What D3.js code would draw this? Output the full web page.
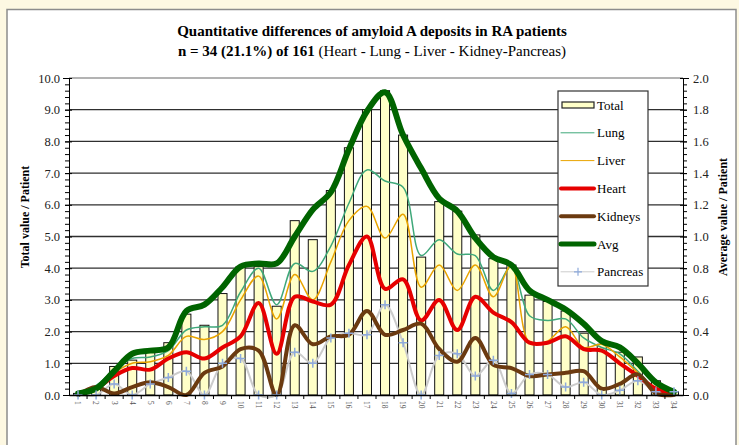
<!DOCTYPE html>
<html>
<head>
<meta charset="utf-8">
<script src="https://cdn.jsdelivr.net/npm/d3@7"></script>
<style>
  body { margin: 0; background: #fdf8e2; }
  svg { display: block; font-family: "Liberation Serif", "Times New Roman", serif; }
</style>
</head>
<body>
<div id="chart"></div>
<script>
// categories (patients 1..34)
var patients = d3.range(1, 35).map(String);

// left axis: total value / patient
var total = [0.05, 0.2, 0.9, 1.1, 1.35, 1.65, 2.55, 2.2, 3.2, 4.05, 4.05, 2.8, 5.5, 4.9, 6.45, 7.8, 9.0, 9.6, 8.2, 4.35,
             6.1, 5.8, 5.05, 4.3, 4.1, 3.15, 2.95, 2.65, 1.95, 1.6, 1.35, 1.2, 0.45, 0.1];

// right axis: average value / patient
var lung = [0.01, 0.06, 0.16, 0.23, 0.24, 0.28, 0.41, 0.43, 0.44, 0.65, 0.80, 0.57, 0.83, 0.78, 0.94, 1.21, 1.42, 1.35, 1.31, 0.88,
            0.98, 0.89, 0.88, 0.66, 0.81, 0.50, 0.47, 0.48, 0.36, 0.30, 0.26, 0.15, 0.04, 0.01];
var liver = [0.01, 0.05, 0.14, 0.20, 0.21, 0.25, 0.37, 0.35, 0.40, 0.60, 0.75, 0.48, 0.76, 0.60, 0.84, 1.10, 1.19, 0.99, 1.14, 0.68,
             0.82, 0.66, 0.82, 0.62, 0.82, 0.33, 0.34, 0.43, 0.30, 0.32, 0.24, 0.14, 0.04, 0.01];
var heart = [0.01, 0.04, 0.12, 0.17, 0.16, 0.23, 0.27, 0.23, 0.30, 0.37, 0.58, 0.26, 0.62, 0.59, 0.57, 0.82, 1.00, 0.67, 0.73, 0.47,
             0.60, 0.41, 0.62, 0.52, 0.46, 0.33, 0.33, 0.37, 0.29, 0.28, 0.20, 0.12, 0.04, 0.01];
var kidneys = [0, 0.05, 0.01, 0.05, 0.08, 0.05, 0, 0.14, 0.18, 0.29, 0.28, 0, 0.44, 0.32, 0.37, 0.38, 0.53, 0.38, 0.41, 0.45,
               0.29, 0.21, 0.36, 0.19, 0.17, 0.12, 0.13, 0.14, 0.15, 0.04, 0.07, 0.13, 0.01, 0];
var avg = [0.01, 0.04, 0.15, 0.26, 0.28, 0.30, 0.53, 0.57, 0.68, 0.81, 0.83, 0.83, 1.00, 1.17, 1.28, 1.55, 1.79, 1.91, 1.64, 1.43,
           1.24, 1.16, 0.99, 0.87, 0.82, 0.66, 0.60, 0.54, 0.45, 0.34, 0.30, 0.20, 0.08, 0.02];
var pancreas = [0, 0, 0.07, 0, 0.07, 0.11, 0.15, 0, 0.20, 0.23, 0, 0, 0.27, 0.20, 0.36, 0.39, 0.38, 0.57, 0.33, 0,
                0.25, 0.26, 0.12, 0.22, 0.01, 0.13, 0.13, 0.05, 0.08, 0, 0.03, 0.09, 0.02, 0.02];

var leftTicks = d3.range(0, 10.01, 1);
var rightTicks = d3.range(0, 2.001, 0.2);

var W = 739, H = 445;
var margin = {top: 78, right: 56, bottom: 50, left: 69},
    width = W - margin.left - margin.right,
    height = H - margin.top - margin.bottom;

var root = d3.select("#chart").append("svg")
    .attr("width", W)
    .attr("height", H);

// white panel with grey border
root.append("rect")
    .attr("x", 7).attr("y", 9.5)
    .attr("width", 729).attr("height", 450)
    .attr("fill", "#ffffff")
    .attr("stroke", "#8c8c8c")
    .attr("stroke-width", 1.5);

// title
root.append("text")
    .attr("x", 372).attr("y", 36)
    .attr("text-anchor", "middle")
    .style("font-size", "15px")
    .style("font-weight", "bold")
    .text("Quantitative differences of amyloid A deposits in RA patients");
var sub = root.append("text")
    .attr("x", 372).attr("y", 56)
    .attr("text-anchor", "middle")
    .style("font-size", "15px");
sub.append("tspan").style("font-weight", "bold").text("n = 34 (21.1%) of 161 ");
sub.append("tspan").text("(Heart - Lung - Liver - Kidney-Pancreas)");

var svg = root.append("g")
    .attr("transform", "translate(" + margin.left + "," + margin.top + ")");

var x = d3.scaleBand()
    .domain(patients)
    .range([0, width])
    .paddingInner(0.5)
    .paddingOuter(0.25);
var xc = function(i) { return x(patients[i]) + x.bandwidth() / 2; };

var y = d3.scaleLinear().domain([0, 10]).range([height, 0]);
var y2 = d3.scaleLinear().domain([0, 2]).range([height, 0]);

// grid lines
svg.append("g")
  .selectAll("line")
  .data(leftTicks.slice(1))
  .enter()
  .append("line")
    .attr("x1", 0).attr("x2", width)
    .attr("y1", function(d) { return y(d); })
    .attr("y2", function(d) { return y(d); })
    .attr("stroke", function(d) { return d === 10 ? "#9a9a9a" : "#2f2f2f"; })
    .attr("stroke-width", 1.3);

// bars
svg.append("g")
  .selectAll("rect")
  .data(total)
  .enter()
  .append("rect")
    .attr("x", function(d, i) { return x(patients[i]); })
    .attr("y", function(d) { return y(d); })
    .attr("width", x.bandwidth())
    .attr("height", function(d) { return height - y(d); })
    .attr("fill", "#ffffc8")
    .attr("stroke", "#111")
    .attr("stroke-width", 1);

var line = d3.line()
    .x(function(d, i) { return xc(i); })
    .y(function(d) { return y2(d); })
    .curve(d3.curveCatmullRom.alpha(0.5));

var series = [
  {name: "Pancreas", data: pancreas, color: "#cccccc", w: 2},
  {name: "Lung", data: lung, color: "#3fa87a", w: 1.5},
  {name: "Liver", data: liver, color: "#e9a400", w: 1.5},
  {name: "Heart", data: heart, color: "#e60000", w: 4},
  {name: "Kidneys", data: kidneys, color: "#6b3a10", w: 4},
  {name: "Avg", data: avg, color: "#006400", w: 6}
];

series.forEach(function(s) {
  svg.append("path")
    .datum(s.data)
    .attr("d", line)
    .attr("fill", "none")
    .attr("stroke", s.color)
    .attr("stroke-width", s.w)
    .attr("stroke-linejoin", "round")
    .attr("stroke-linecap", "round");
});

// pancreas markers
svg.append("g")
  .selectAll("path")
  .data(pancreas)
  .enter()
  .append("path")
    .attr("d", function(d, i) {
      var cx = xc(i), cy = y2(d);
      return "M" + (cx - 4.5) + "," + cy + "H" + (cx + 4.5) + "M" + cx + "," + (cy - 4.5) + "V" + (cy + 4.5);
    })
    .attr("stroke", "#8eaadb")
    .attr("stroke-width", 1.5);

// left axis
svg.append("g")
    .call(d3.axisLeft(y).tickValues(d3.range(0, 10.01, 0.2)).tickSize(4).tickFormat(""))
    .call(function(g) { g.select(".domain").remove(); g.selectAll("line").attr("stroke", "#000"); });
svg.append("g")
    .call(d3.axisLeft(y).tickValues(leftTicks).tickSize(6).tickFormat(d3.format(".1f")))
    .call(function(g) {
      g.select(".domain").attr("stroke", "#000");
      g.selectAll(".tick line").attr("x2", 3).attr("x1", -4).attr("stroke", "#000");
      g.selectAll("text").attr("x", -9).style("font-size", "12.5px").style("font-family", "Liberation Serif").attr("fill", "#222");
    });

// right axis
var r = svg.append("g").attr("transform", "translate(" + width + ",0)");
r.append("g")
    .call(d3.axisRight(y2).tickValues(d3.range(0, 2.001, 0.04)).tickSize(4).tickFormat(""))
    .call(function(g) { g.select(".domain").remove(); g.selectAll("line").attr("stroke", "#000"); });
r.append("g")
    .call(d3.axisRight(y2).tickValues(rightTicks).tickSize(6).tickFormat(d3.format(".1f")))
    .call(function(g) {
      g.select(".domain").attr("stroke", "#000");
      g.selectAll(".tick line").attr("x1", -3).attr("x2", 4).attr("stroke", "#000");
      g.selectAll("text").attr("x", 10).style("font-size", "12.5px").style("font-family", "Liberation Serif").attr("fill", "#222");
    });

// x axis
svg.append("g")
    .attr("transform", "translate(0," + height + ")")
    .call(d3.axisBottom(x).tickSize(0).tickPadding(6))
    .call(function(g) {
      g.select(".domain").attr("stroke", "#000").attr("stroke-width", 1.3);
      g.selectAll("text")
        .attr("transform", "rotate(90)")
        .attr("x", 6).attr("y", 0).attr("dy", "0.35em")
        .style("text-anchor", "start")
        .style("font-size", "7.5px")
        .style("font-family", "Liberation Serif")
        .attr("fill", "#555");
    });
// category boundary ticks
svg.append("g")
  .selectAll("line")
  .data(patients.slice(1))
  .enter()
  .append("line")
    .attr("x1", function(d) { return x(d) - x.step() * 0.25; })
    .attr("x2", function(d) { return x(d) - x.step() * 0.25; })
    .attr("y1", height).attr("y2", height + 4)
    .attr("stroke", "#000");

// axis titles
root.append("text")
    .attr("transform", "translate(29,217)rotate(-90)")
    .attr("text-anchor", "middle")
    .style("font-size", "12px")
    .style("font-weight", "bold")
    .text("Total value / Patient");
root.append("text")
    .attr("transform", "translate(727,217)rotate(-90)")
    .attr("text-anchor", "middle")
    .style("font-size", "12px")
    .style("font-weight", "bold")
    .text("Average value / Patient");

// legend
var lg = root.append("g").attr("transform", "translate(558,91)");
lg.append("rect")
    .attr("width", 90).attr("height", 195)
    .attr("fill", "#fff")
    .attr("stroke", "#333")
    .attr("stroke-width", 1.2);
var items = [
  {name: "Total", type: "bar"},
  {name: "Lung", color: "#3fa87a", w: 1},
  {name: "Liver", color: "#e9a400", w: 1},
  {name: "Heart", color: "#e60000", w: 4},
  {name: "Kidneys", color: "#6b3a10", w: 4},
  {name: "Avg", color: "#006400", w: 5},
  {name: "Pancreas", color: "#cccccc", w: 1, marker: true}
];
items.forEach(function(it, i) {
  var cy = 14 + i * 27.8;
  if (it.type === "bar") {
    lg.append("rect").attr("x", 4).attr("y", cy - 3).attr("width", 32).attr("height", 6)
      .attr("fill", "#ffffc8").attr("stroke", "#222").attr("stroke-width", 1.2);
  } else {
    lg.append("line").attr("x1", 3).attr("x2", 36).attr("y1", cy).attr("y2", cy)
      .attr("stroke", it.color).attr("stroke-width", it.w).attr("stroke-linecap", "round");
    if (it.marker) {
      lg.append("path").attr("d", "M16,"+ cy + "H24M20," + (cy - 4) + "V" + (cy + 4))
        .attr("stroke", "#8eaadb").attr("stroke-width", 1.2);
    }
  }
  lg.append("text").attr("x", 39).attr("y", cy).attr("dy", "0.35em")
    .style("font-size", "13px").text(it.name);
});
</script>
</body>
</html>
